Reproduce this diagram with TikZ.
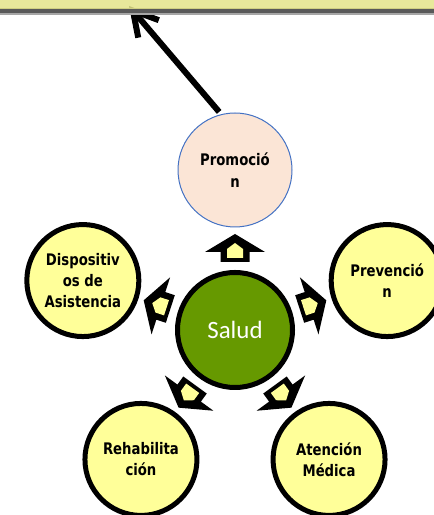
\documentclass[tikz,border=0pt]{standalone}
\usepackage{fontspec}
\newfontfamily\petalfont[FakeStretch=0.83]{DejaVu Sans}
\newfontfamily\saludfont{Carlito}
\usetikzlibrary{calc}
\usetikzlibrary{arrows.meta}
\usetikzlibrary{positioning}

\definecolor{banner}{RGB}{228,228,138}
\definecolor{petalyellow}{RGB}{255,255,153}
\definecolor{peach}{RGB}{251,229,214}
\definecolor{leaf}{RGB}{102,153,0}
\definecolor{rim}{RGB}{68,114,196}

\begin{document}
\begin{tikzpicture}
  [
    x=1bp, y=1bp,
    petal/.style = {draw, circle, line width=5bp, fill=petalyellow, minimum size=112bp, inner sep=0pt, align=center, font=\petalfont\bfseries\fontsize{16}{21}\selectfont},
    promo/.style = {draw=rim, circle, line width=1bp, fill=peach, minimum size=114bp, inner sep=0pt, align=center, font=\petalfont\bfseries\fontsize{16}{22}\selectfont},
    core/.style  = {draw, circle, line width=5bp, fill=leaf, minimum size=115bp, text=white, font=\saludfont\fontsize{25}{30}\selectfont},
    blockarrow/.pic = {
      \fill[black] (0,-14.5) -- (10,-14.5) -- (10,-30) -- (28,0) -- (10,30) -- (10,14.5) -- (0,14.5) -- cycle;
      \fill[petalyellow] (4,-8) -- (13,-8) -- (19,0) -- (13,8) -- (4,8) -- cycle;
    },
  ]

  \useasboundingbox (0,0) rectangle (434,515);

  % the hub
  \def\dist{160}
  \def\gap{68}

  \node (salud) at (235,185) [core] {Salud};

  % the five around it
  \node (promocion) at ($(salud)+(90:\dist)$) [promo] {Promoció\\n};
  \node (prevencion) at ($(salud)+(18:\dist)$) [petal] {Prevenció\\n};
  \node (atencion) at ($(salud)+(-54:\dist)$) [petal] {Atención\\Médica};
  \node (rehab) at ($(salud)+(-126:\dist)$) [petal] {Rehabilita\\ción};
  \node (dispositivos) at ($(salud)+(162:\dist)$) [petal] {Dispositiv\\os de\\Asistencia};

  \foreach \a in {90,18,-54,-126,162}
    \pic[rotate=\a] at ($(salud)+(\a:\gap)$) {blockarrow};

  % arrow up to the banner
  \coordinate (top) at (129,509);
  \draw[line width=6bp, -{Straight Barb[length=24bp,width=27bp]}, shorten <=3bp] (promocion.104) -- (top);

  % banner
  \fill[black!65] (0,501) rectangle (434,507);
  \fill[black!35] (0,500) rectangle (434,502);
  \fill[banner, fill opacity=0.85] (0,506) rectangle (434,516);

\end{tikzpicture}
\end{document}
